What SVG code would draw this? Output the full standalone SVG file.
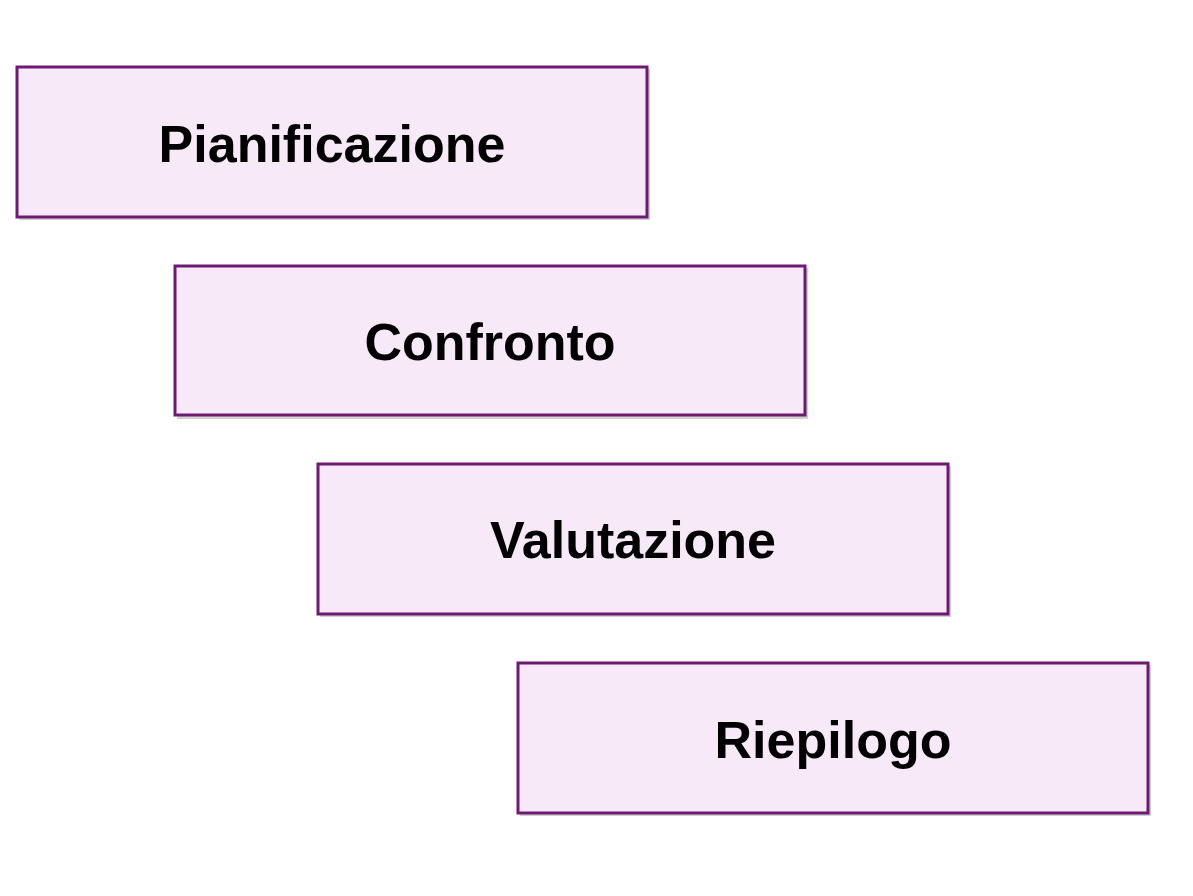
<svg xmlns="http://www.w3.org/2000/svg" width="1193" height="896" viewBox="0 0 1193 896">
<style>
.box{fill:#f7e9f7;stroke:#6e1a72;stroke-width:3}
.sh{fill:#000;opacity:0.18}
.t{font-family:"Liberation Sans",Arial,sans-serif;font-weight:bold;font-size:52px;fill:#000;text-anchor:middle}
</style>
<rect width="1193" height="896" fill="#fff"/>
<g id="n1"><rect class="sh" x="19" y="69" width="631" height="151"/><rect class="box" x="17" y="67" width="630" height="150"/><text class="t" x="332" y="162">Pianificazione</text></g>
<g id="n2"><rect class="sh" x="177" y="268" width="631" height="151"/><rect class="box" x="175" y="266" width="630" height="149"/><text class="t" x="490" y="360">Confronto</text></g>
<g id="n3"><rect class="sh" x="320" y="466" width="631" height="151"/><rect class="box" x="318" y="464" width="630" height="150"/><text class="t" x="633" y="558">Valutazione</text></g>
<g id="n4"><rect class="sh" x="520" y="665" width="631" height="151"/><rect class="box" x="518" y="663" width="630" height="150"/><text class="t" x="833" y="758">Riepilogo</text></g>
<g id="connectors"/>
</svg>
